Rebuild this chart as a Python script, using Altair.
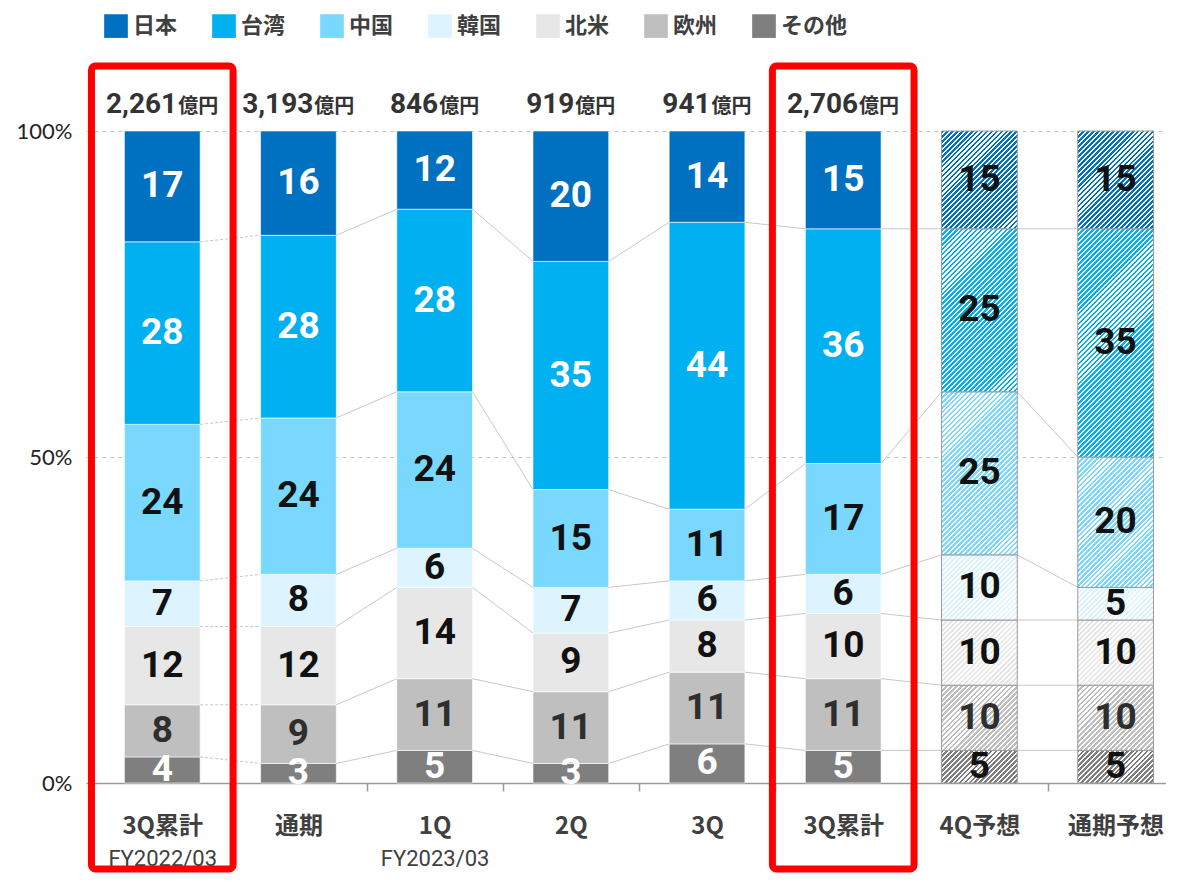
import json
import altair as alt
import pandas as pd

# ---------------- data ----------------
categories = ["3Q累計", "通期", "1Q", "2Q", "3Q", "3Q累計", "4Q予想", "通期予想"]
fy_labels = ["FY2022/03", "", "FY2023/03", "", "", "", "", ""]
series = ["日本", "台湾", "中国", "韓国", "北米", "欧州", "その他"]
colors = ["#0070C0", "#00B0F0", "#7AD8FF", "#DDF4FF", "#E7E7E7", "#BFBFBF", "#7F7F7F"]

japan = [17, 16, 12, 20, 14, 15, 15, 15]
taiwan = [28, 28, 28, 35, 44, 36, 25, 35]
china = [24, 24, 24, 15, 11, 17, 25, 20]
korea = [7, 8, 6, 7, 6, 6, 10, 5]
namer = [12, 12, 14, 9, 8, 10, 10, 10]
europe = [8, 9, 11, 11, 11, 11, 10, 10]
other = [4, 3, 5, 3, 6, 5, 5, 5]
totals = ["2,261", "3,193", "846", "919", "941", "2,706", "", ""]
total_unit = "億円"
forecast = [False, False, False, False, False, False, True, True]
highlight = [0, 5]

# ---------------- layout / style ----------------
PLOT_W, PLOT_H = 1080, 652
X_MIN, X_MAX = -0.56, 7.37
STEP = PLOT_W / (X_MAX - X_MIN)
HALF = 0.278          # half bar width, in category steps
BOX_HALF = 0.52       # half width of highlight boxes
FONT_NUM = "Roboto, 'Noto Sans CJK JP', sans-serif"
FONT_JP = "'Noto Sans CJK JP', sans-serif"
NUM_SIZE, UNIT_SIZE = 28, 20

vals = [japan, taiwan, china, korea, namer, europe, other]
stack_order = [6, 5, 4, 3, 2, 1, 0]   # bottom -> top


def label_color(s, fc):
    if s == 5:
        return "#2e2e2e"
    if fc:
        return "#111111"
    return "#ffffff" if s in (0, 1, 6) else "#111111"


rows = []
for i in range(len(categories)):
    cum = 0
    for s in stack_order:
        v = vals[s][i]
        rows.append(dict(idx=i, xl=i - HALF, xr=i + HALF, series=series[s], sord=s, v=v,
                         y0=cum, y1=cum + v, ym=cum + v / 2, fc=forecast[i],
                         tcol=label_color(s, forecast[i])))
        cum += v
seg = pd.DataFrame(rows)

# connector lines between neighbouring bars (segment boundaries)
lrows = []
for i in range(len(categories) - 1):
    a = seg[seg.idx == i].sort_values("y0")
    b = seg[seg.idx == i + 1].sort_values("y0")
    for ya, yb in list(zip(a.y1.tolist(), b.y1.tolist()))[:-1]:
        lrows.append(dict(xa=i + HALF, xb=i + 1 - HALF, ya=ya, yb=yb, dashed=(i == 0)))
lines = pd.DataFrame(lrows)

# totals above the bars (number + unit, centred together)
trows = []
for i, t in enumerate(totals):
    if not t:
        continue
    digits = sum(c.isdigit() for c in t)
    commas = t.count(",")
    num_w = digits * 0.56 * NUM_SIZE + commas * 0.25 * NUM_SIZE
    unit_w = 2 * UNIT_SIZE
    split = i + (num_w - unit_w) / 2 / STEP
    trows.append(dict(idx=i, sx=split, num=t, unit=total_unit, top=100))
tot = pd.DataFrame(trows)

boxes = pd.DataFrame([dict(bl=i - BOX_HALF, br=i + BOX_HALF) for i in highlight])

# ---------------- scales / axes ----------------
xscale = alt.Scale(domain=[X_MIN, X_MAX], nice=False, zero=False)
yscale = alt.Scale(domain=[0, 100], nice=False, zero=True)

yaxis = alt.Axis(values=[0, 50, 100], labelExpr="datum.value + '%'", title=None,
                 domain=False, ticks=False, grid=True, gridDash=[4, 4], gridColor="#c4c4c4",
                 gridWidth=1,
                 gridOpacity={"condition": {"test": "datum.value == 0", "value": 0}, "value": 1},
                 labelFont="Lato, sans-serif", labelFontWeight="normal", labelFontSize=22,
                 labelColor="#222222", labelPadding=14)

cat_js = json.dumps(categories, ensure_ascii=False)
xaxis = alt.Axis(values=[k / 2 for k in range(15)],
                 labelExpr=f"datum.value % 1 == 0 ? {cat_js}[datum.value] : ''",
                 title=None, grid=False, domain=True, domainColor="#9a9a9a", domainWidth=1.5,
                 ticks=True, tickColor="#9a9a9a", tickWidth=1.5, tickSize=8,
                 tickOpacity={"condition": {"test": "datum.value % 1 == 0", "value": 0}, "value": 1},
                 labelFont=FONT_JP, labelFontSize=24, labelFontWeight="bold",
                 labelColor="#404040", labelPadding=35, labelBaseline="middle",
                 labelOverlap=False, labelFlush=False)

fy_js = json.dumps(fy_labels, ensure_ascii=False)
fyaxis = alt.Axis(orient="bottom", values=[i for i, f in enumerate(fy_labels) if f],
                  labelExpr=f"{fy_js}[datum.value]", title=None, grid=False, domain=False,
                  ticks=False, labelFont=FONT_NUM, labelFontSize=22, labelFontWeight="normal",
                  labelColor="#404040", labelPadding=75, labelBaseline="middle",
                  labelOverlap=False, labelFlush=False)


def Y(f):
    return alt.Y(f, type="quantitative", scale=yscale, axis=yaxis)


def X(f, axis=None):
    return alt.X(f, type="quantitative", scale=xscale, axis=axis)


# ---------------- layers ----------------
base = alt.Chart(seg)

actual = base.transform_filter("!datum.fc").mark_rect(stroke="#ffffff", strokeWidth=0.6).encode(
    x=X("xl:Q", xaxis), x2="xr:Q", y=Y("y0:Q"), y2="y1:Q",
    color=alt.Color("series:N", scale=alt.Scale(domain=series, range=colors),
                    legend=alt.Legend(orient="none", legendX=18, legendY=-117,
                                      direction="horizontal", title=None,
                                      symbolType="square", symbolSize=560,
                                      symbolStrokeWidth=0, symbolOpacity=1,
                                      labelFont=FONT_JP, labelFontSize=22,
                                      labelFontWeight="bold", labelColor="#404040",
                                      labelOffset=5, columnPadding=34, padding=0,
                                      offset=0)),
)

conn_solid = alt.Chart(lines).transform_filter("!datum.dashed").mark_rule(
    color="#c8c8c8", strokeWidth=1).encode(x=X("xa:Q"), x2="xb:Q", y=Y("ya:Q"), y2="yb:Q")
conn_dash = alt.Chart(lines).transform_filter("datum.dashed").mark_rule(
    color="#c8c8c8", strokeWidth=1, strokeDash=[3, 2]).encode(
    x=X("xa:Q"), x2="xb:Q", y=Y("ya:Q"), y2="yb:Q")


def hatch(color, w, h, period=3.5, frac=0.55):
    L = (w + h) / 2 ** 0.5
    n = max(1, int(round(L / period)))
    s = (w + h) / (w * w + h * h)
    stops = []
    for k in range(n):
        a = k / n
        b = (k + frac) / n
        c = (k + 1) / n
        stops += [{"offset": a, "color": color}, {"offset": b, "color": color},
                  {"offset": b, "color": "#ffffff"}, {"offset": c, "color": "#ffffff"}]
    return {"gradient": "linear", "x1": 0, "y1": 0, "x2": w * s, "y2": h * s, "stops": stops}


bar_w_px = 2 * HALF * STEP
hatched = []
for r in rows:
    if not r["fc"]:
        continue
    g = hatch(colors[r["sord"]], bar_w_px, r["v"] / 100 * PLOT_H)
    hatched.append(
        base.transform_filter(f"datum.idx == {r['idx']} && datum.sord == {r['sord']}")
        .mark_rect(fill=g, stroke="#9a9a9a", strokeWidth=1)
        .encode(x=X("xl:Q"), x2="xr:Q", y=Y("y0:Q"), y2="y1:Q")
    )

seg_labels = base.mark_text(font=FONT_NUM, fontSize=37, fontWeight="bold",
                            baseline="middle", align="center").encode(
    x=X("idx:Q"), y=Y("ym:Q"), text="v:Q", fill=alt.Fill("tcol:N", scale=None))

tot_num = alt.Chart(tot).mark_text(font=FONT_NUM, fontSize=NUM_SIZE, fontWeight="bold",
                                   color="#333333", align="right", baseline="alphabetic",
                                   dy=-18).encode(x=X("sx:Q"), y=Y("top:Q"), text="num:N")
tot_unit = alt.Chart(tot).mark_text(font=FONT_JP, fontSize=UNIT_SIZE, fontWeight="bold",
                                    color="#333333", align="left", baseline="alphabetic",
                                    dx=1, dy=-18).encode(
    x=X("sx:Q", fyaxis), y=Y("top:Q"), text="unit:N")

red = alt.Chart(boxes).mark_rect(filled=False, stroke="#FF0000", strokeWidth=7,
                                 cornerRadius=4, clip=False).encode(
    x=X("bl:Q"), x2="br:Q", y=alt.value(-65), y2=alt.value(738))

chart = alt.layer(
    actual, conn_solid, conn_dash, *hatched, seg_labels, tot_num, tot_unit, red
).resolve_axis(x="independent").properties(
    width=PLOT_W, height=PLOT_H,
    padding={"left": 78, "top": 123, "right": 0, "bottom": 90},
    autosize=alt.AutoSizeParams(type="none"),
    background="#ffffff",
).configure_view(strokeWidth=0)

chart.save("out.html", embed_options={"renderer": "svg", "actions": False})
